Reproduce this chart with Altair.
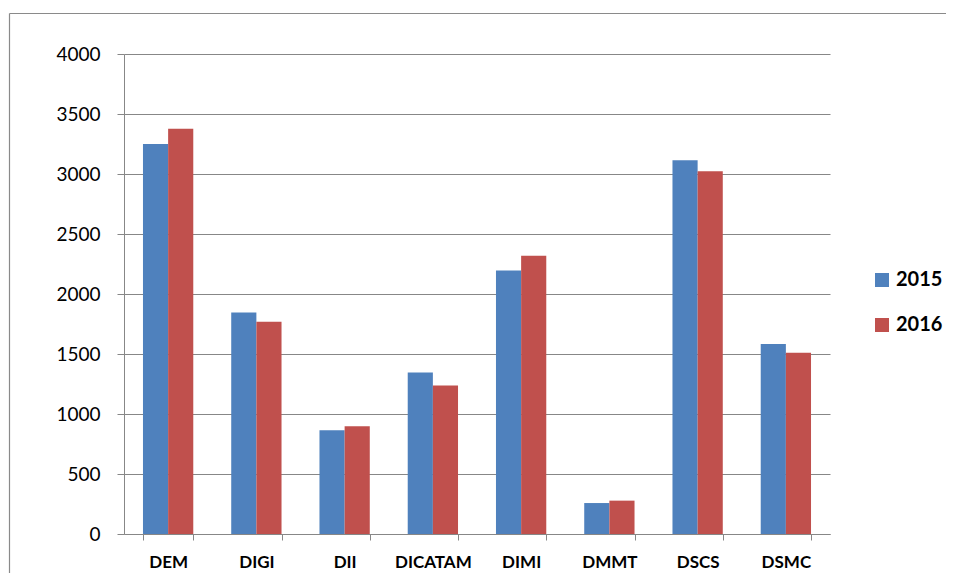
import altair as alt
import pandas as pd

categories = ["DEM", "DIGI", "DII", "DICATAM", "DIMI", "DMMT", "DSCS", "DSMC"]
years = ["2015", "2016"]
values_2015 = [3250, 1845, 865, 1345, 2195, 258, 3115, 1583]
values_2016 = [3378, 1768, 898, 1238, 2318, 278, 3022, 1511]
colors = ["#4F81BD", "#C0504D"]
y_ticks = [0, 500, 1000, 1500, 2000, 2500, 3000, 3500, 4000]

rows = []
for c, a, b in zip(categories, values_2015, values_2016):
    rows.append({"cat": c, "year": years[0], "value": a})
    rows.append({"cat": c, "year": years[1], "value": b})
df = pd.DataFrame(rows)

GRAY = "#878787"
FONT = "Lato"

bars = alt.Chart(df).mark_bar(stroke=None).encode(
    x=alt.X("cat:N", sort=categories,
            scale=alt.Scale(paddingInner=0.43, paddingOuter=0.215),
            axis=alt.Axis(title=None, labelAngle=0, tickBand="extent", tickSize=6,
                          labelPadding=14, labelFont=FONT, labelFontSize=17,
                          labelFontWeight="bold", labelColor="black",
                          domainColor=GRAY, tickColor=GRAY, grid=False)),
    xOffset=alt.XOffset("year:N", sort=years, scale=alt.Scale(paddingInner=0, paddingOuter=0)),
    y=alt.Y("value:Q", scale=alt.Scale(domain=[0, 4000], nice=False),
            axis=alt.Axis(title=None, values=y_ticks, format="d", grid=True, gridColor=GRAY,
                          domainColor=GRAY, tickColor=GRAY, tickSize=7,
                          labelPadding=17, labelFont=FONT, labelFontSize=19,
                          labelColor="black")),
    color=alt.Color("year:N", sort=years,
                    scale=alt.Scale(domain=years, range=colors),
                    legend=alt.Legend(title=None, orient="none", legendX=748, legendY=216,
                                      symbolType="square", symbolSize=196,
                                      symbolStrokeWidth=0, labelFont=FONT,
                                      labelFontSize=20, labelFontWeight="bold",
                                      labelColor="black", rowPadding=25, padding=0,
                                      labelOffset=4)),
)

frame = pd.DataFrame({"a": [0]})
top_edge = alt.Chart(frame).mark_rule(color="#8a8a8a", strokeWidth=1.2, clip=False).encode(
    x=alt.value(-114.5), x2=alt.value(1000), y=alt.value(-40.5),
)
left_edge = alt.Chart(frame).mark_rule(color="#8a8a8a", strokeWidth=1.2, clip=False).encode(
    x=alt.value(-114.5), y=alt.value(-40.5), y2=alt.value(800),
)

chart = alt.layer(top_edge, left_edge, bars).properties(
    width=706, height=480,
    autosize=alt.AutoSizeParams(type="none"),
    padding={"left": 116, "top": 46, "right": 116, "bottom": 39},
).configure_view(stroke=None)

chart.save("out.html", embed_options={"renderer": "svg", "actions": False})
